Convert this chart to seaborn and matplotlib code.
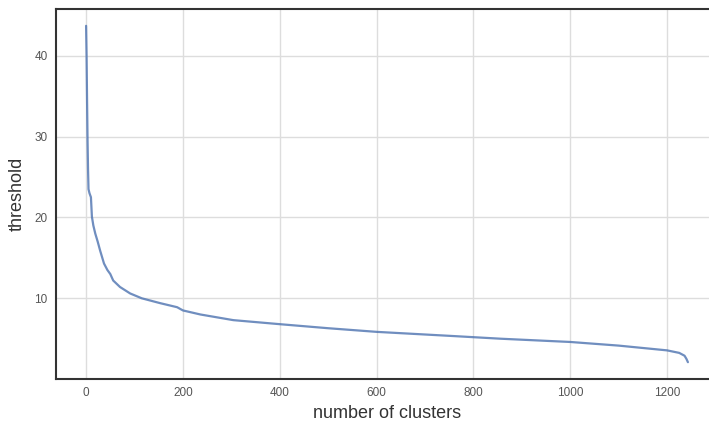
import matplotlib
matplotlib.use("Agg")
import matplotlib.pyplot as plt
import seaborn as sns

# values (sorted thresholds per cluster count)
clusters = [0, 1, 2, 3, 4, 5, 7, 10, 12, 15, 19, 24, 29, 37, 44, 50, 56, 70, 91,
            115, 153, 188, 200, 236, 304, 400, 500, 600, 753, 857, 1000, 1100,
            1200, 1225, 1236, 1240, 1243]
threshold = [43.7, 40.0, 34.5, 29.6, 26.0, 23.5, 23.0, 22.5, 20.1, 19.0, 18.0,
             17.0, 15.9, 14.3, 13.5, 13.0, 12.2, 11.4, 10.6, 10.0, 9.4, 8.9, 8.5,
             8.0, 7.3, 6.8, 6.3, 5.85, 5.35, 5.0, 4.6, 4.15, 3.56, 3.25, 2.9,
             2.5, 2.1]

sns.set_theme(style="whitegrid")
plt.rcParams['font.family'] = ['Liberation Sans', 'DejaVu Sans']

fig = plt.figure(figsize=(7.09, 4.22), dpi=100)
# the axes run past the right edge of the picture, as in the reference
ax = fig.add_axes([56 / 709, 43 / 422, 662 / 709, 370 / 422])

sns.lineplot(x=clusters, y=threshold, ax=ax, color='#4c72b0', alpha=0.8, linewidth=1.6)

ax.set_xticks([0, 200, 400, 600, 800, 1000, 1200])
ax.set_yticks([10, 20, 30, 40])
ax.tick_params(labelsize=8.5, labelcolor='#555555', length=0, pad=6)
ax.grid(True, color='#dddddd', linewidth=1)
for s in ax.spines.values():
    s.set_color('#333333')
    s.set_linewidth(1.5)
ax.spines['right'].set_visible(False)

ax.set_xlabel("number of clusters", fontsize=13, color='#333333', labelpad=4)
ax.set_ylabel("threshold", fontsize=13, color='#333333', labelpad=6)

fig.savefig("out.png", dpi=100)
